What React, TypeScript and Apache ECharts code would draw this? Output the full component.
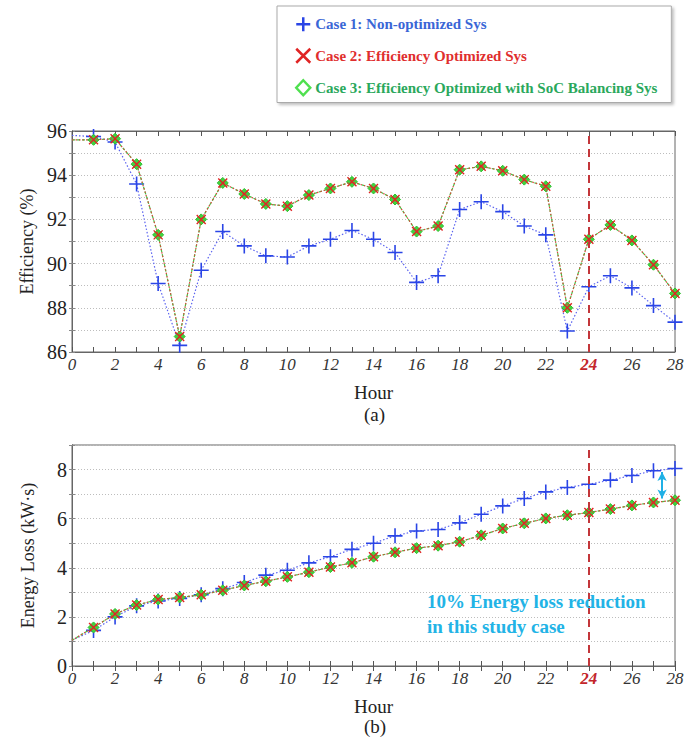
import React, { useEffect, useRef } from "react";
import * as echarts from "echarts";

const hours = [0, 1, 2, 3, 4, 5, 6, 7, 8, 9, 10, 11, 12, 13, 14, 15, 16, 17, 18, 19, 20, 21, 22, 23, 24, 25, 26, 27, 28];

const seriesNames = [
  "Case 1: Non-optimized Sys",
  "Case 2: Efficiency Optimized Sys",
  "Case 3: Efficiency Optimized with SoC Balancing Sys",
];

const effCase1 = [95.8, 95.75, 95.5, 93.6, 89.1, 86.3, 89.7, 91.45, 90.8, 90.35, 90.3, 90.8, 91.1, 91.5, 91.1, 90.5, 89.15, 89.45, 92.45, 92.8, 92.35, 91.7, 91.3, 86.95, 88.95, 89.45, 88.9, 88.1, 87.35];
const effCase2 = [95.6, 95.6, 95.65, 94.5, 91.3, 86.7, 92.0, 93.65, 93.15, 92.7, 92.6, 93.1, 93.4, 93.7, 93.4, 92.9, 91.45, 91.7, 94.25, 94.4, 94.2, 93.8, 93.5, 88.0, 91.1, 91.75, 91.05, 89.95, 88.65];
const effCase3 = [95.6, 95.6, 95.65, 94.5, 91.3, 86.7, 92.0, 93.65, 93.15, 92.7, 92.6, 93.1, 93.4, 93.7, 93.4, 92.9, 91.45, 91.7, 94.25, 94.4, 94.2, 93.8, 93.5, 88.0, 91.1, 91.75, 91.05, 89.95, 88.65];

const lossCase1 = [1.05, 1.45, 2.0, 2.45, 2.65, 2.75, 2.9, 3.15, 3.4, 3.7, 3.9, 4.2, 4.45, 4.75, 5.0, 5.3, 5.5, 5.56, 5.83, 6.18, 6.52, 6.82, 7.09, 7.27, 7.4, 7.57, 7.76, 7.95, 8.04];
const lossCase2 = [1.05, 1.57, 2.12, 2.48, 2.71, 2.79, 2.9, 3.08, 3.28, 3.45, 3.63, 3.82, 4.03, 4.2, 4.45, 4.63, 4.8, 4.9, 5.06, 5.32, 5.6, 5.81, 6.01, 6.14, 6.25, 6.39, 6.54, 6.66, 6.75];
const lossCase3 = [1.05, 1.57, 2.12, 2.48, 2.71, 2.79, 2.9, 3.08, 3.28, 3.45, 3.63, 3.82, 4.03, 4.2, 4.45, 4.63, 4.8, 4.9, 5.06, 5.32, 5.6, 5.81, 6.01, 6.14, 6.25, 6.39, 6.54, 6.66, 6.75];

const markerHour = 24;
const reductionArrow = [[27.4, 7.9], [27.4, 6.82]];
const annotationLines = ["10% Energy loss reduction", "in this study case"];

const SERIF = "'Liberation Serif', 'DejaVu Serif', serif";
const BLUE = "#2a45e6";
const RED = "#e02424";
const GREEN = "#3fd43f";
const PLUS = "path://M5,0L5,10M0,5L10,5";
const CROSS = "path://M0,0L10,10M10,0L0,10";

function toData(vals: number[]) {
  return hours.map((h, i) => (i === 0 ? { value: [h, vals[i]], symbol: "none" } : [h, vals[i]]));
}

export default function App() {
  const ref = useRef<HTMLDivElement>(null);
  useEffect(() => {
    if (!ref.current) return;
    const chart = echarts.init(ref.current, null, { renderer: "svg" });

    const grids = [
      { left: 72, right: 24, top: 131, height: 221, show: true, borderColor: "#666", borderWidth: 1, backgroundColor: "#fff" },
      { left: 72, right: 24, top: 445, height: 221, show: true, borderColor: "#666", borderWidth: 1, backgroundColor: "#fff" },
    ];

    const xBottom = (gi: number) => ({
      type: "value",
      gridIndex: gi,
      min: 0,
      max: 28,
      interval: 1,
      position: "bottom",
      name: "Hour",
      nameLocation: "middle",
      nameGap: 31,
      nameTextStyle: { fontFamily: SERIF, fontSize: 19, color: "#222" },
      axisLine: { show: true, lineStyle: { color: "#666" } },
      axisTick: { show: true, inside: true, length: 5, lineStyle: { color: "#555" } },
      splitLine: { show: false },
      axisLabel: {
        margin: 4,
        fontFamily: SERIF,
        fontSize: 17,
        fontStyle: "italic",
        color: "#333",
        formatter: (v: number) => (v % 2 === 0 ? (v === markerHour ? `{r|${v}}` : `${v}`) : ""),
        rich: { r: { fontFamily: SERIF, fontSize: 17, fontStyle: "italic", fontWeight: "bold", color: "#c3262b" } },
      },
    });
    const xTop = (gi: number) => ({
      type: "value",
      gridIndex: gi,
      min: 0,
      max: 28,
      interval: 1,
      position: "top",
      axisLine: { show: true, lineStyle: { color: "#666" } },
      axisTick: { show: true, inside: true, length: 5, lineStyle: { color: "#555" } },
      axisLabel: { show: false },
      splitLine: { show: false },
    });
    const yLeft = (gi: number, min: number, max: number, name: string) => ({
      type: "value",
      gridIndex: gi,
      min,
      max,
      interval: 1,
      position: "left",
      name,
      nameLocation: "middle",
      nameGap: 35,
      nameTextStyle: { fontFamily: SERIF, fontSize: 18, color: "#222" },
      axisLine: { show: true, lineStyle: { color: "#666" } },
      axisTick: { show: true, inside: true, length: 3, lineStyle: { color: "#888" } },
      axisLabel: {
        margin: 5,
        fontFamily: SERIF,
        fontSize: 20,
        color: "#222",
        formatter: (v: number) => (v % 2 === 0 ? `${v}` : ""),
      },
      splitLine: { show: true, lineStyle: { color: "#bdbdbd", type: [1, 2], width: 1 } },
    });
    const yRight = (gi: number, min: number, max: number) => ({
      type: "value",
      gridIndex: gi,
      min,
      max,
      interval: 1,
      position: "right",
      axisLine: { show: true, lineStyle: { color: "#666" } },
      axisTick: { show: true, inside: true, length: 3, lineStyle: { color: "#888" } },
      axisLabel: { show: false },
      splitLine: { show: false },
    });

    const mkSeries = (name: string, vals: number[], xi: number, yi: number, kind: number, extra: any = {}) => {
      const base: any = {
        name,
        type: "line",
        xAxisIndex: xi,
        yAxisIndex: yi,
        data: toData(vals),
        showSymbol: true,
        symbolKeepAspect: true,
        ...extra,
      };
      if (kind === 0) {
        return {
          ...base,
          color: BLUE,
          symbol: PLUS,
          symbolSize: 15,
          z: 3,
          itemStyle: { color: BLUE, borderColor: BLUE, borderWidth: 1.6 },
          lineStyle: { color: "#5b63f0", width: 1.2, type: [1.5, 2] },
        };
      } else if (kind === 1) {
        return {
          ...base,
          color: RED,
          symbol: CROSS,
          symbolSize: 9,
          z: 5,
          itemStyle: { color: RED, borderColor: RED, borderWidth: 1.4 },
          lineStyle: { color: "#d64a3a", width: 1.2, type: [1.5, 2] },
        };
      }
      return {
        ...base,
        color: GREEN,
        symbol: "diamond",
        symbolSize: 11,
        z: 4,
        itemStyle: { color: GREEN, borderColor: "#2fbf2f", borderWidth: 1 },
        lineStyle: { color: "#45c245", width: 1.2, type: [3, 2] },
      };
    };

    const vLine = {
      silent: true,
      symbol: "none",
      label: { show: false },
      lineStyle: { color: "#c3363a", type: [8, 5], width: 2 },
      data: [{ xAxis: markerHour }],
    };
    const arrowLine = {
      silent: true,
      symbol: ["arrow", "arrow"],
      symbolSize: [7, 9],
      label: { show: false },
      lineStyle: { color: "#1fb0e6", type: "solid", width: 2 },
      data: [[{ coord: reductionArrow[0] }, { coord: reductionArrow[1] }]],
    };

    const option: any = {
      animation: false,
      backgroundColor: "#fff",
      grid: grids,
      xAxis: [xBottom(0), xTop(0), xBottom(1), xTop(1)],
      yAxis: [
        yLeft(0, 86, 96, "Efficiency (%)"),
        yLeft(1, 0, 9, "Energy Loss (kW·s)"),
        yRight(0, 86, 96),
        yRight(1, 0, 9),
      ],
      legend: {
        orient: "vertical",
        left: 277,
        top: 6,
        padding: [10, 14, 6, 18],
        itemGap: 15,
        itemWidth: 14,
        itemHeight: 15,
        itemTextGap: 11,
        borderColor: "#aaa",
        borderWidth: 1,
        backgroundColor: "#fff",
        shadowColor: "rgba(0,0,0,0.25)",
        shadowBlur: 3,
        shadowOffsetX: 2,
        shadowOffsetY: 2,
        textStyle: { fontFamily: SERIF, fontSize: 15, fontWeight: "bold" },
        data: [
          { name: seriesNames[0], icon: PLUS, itemStyle: { color: BLUE, borderColor: BLUE, borderWidth: 2.5 }, textStyle: { color: "#3a66d6" } },
          { name: seriesNames[1], icon: CROSS, itemStyle: { color: RED, borderColor: RED, borderWidth: 2.5 }, textStyle: { color: "#df2e2e" } },
          { name: seriesNames[2], icon: "diamond", itemStyle: { color: "#fff", borderColor: "#4fe04f", borderWidth: 2.5 }, textStyle: { color: "#2aa85c" } },
        ],
      },
      series: [
        mkSeries(seriesNames[0], effCase1, 0, 0, 0, { markLine: vLine }),
        mkSeries(seriesNames[2], effCase3, 0, 0, 2),
        mkSeries(seriesNames[1], effCase2, 0, 0, 1),
        mkSeries(seriesNames[0], lossCase1, 2, 1, 0, { markLine: vLine }),
        mkSeries(seriesNames[2], lossCase3, 2, 1, 2),
        mkSeries(seriesNames[1], lossCase2, 2, 1, 1, { markLine: arrowLine }),
      ],
      graphic: [
        { type: "text", left: 364, top: 405, style: { text: "(a)", font: `19px ${SERIF}`, fill: "#222" } },
        { type: "text", left: 364, top: 717, style: { text: "(b)", font: `19px ${SERIF}`, fill: "#222" } },
        {
          type: "text",
          left: 427,
          top: 589,
          z: 10,
          style: {
            text: annotationLines.join("\n"),
            font: `bold 19px ${SERIF}`,
            lineHeight: 25,
            fill: "#22b3e6",
          },
        },
      ],
    };

    chart.setOption(option);
    return () => chart.dispose();
  }, []);

  return <div ref={ref} style={{ position: "fixed", left: 0, top: 0, width: 699, height: 740 }} />;
}
